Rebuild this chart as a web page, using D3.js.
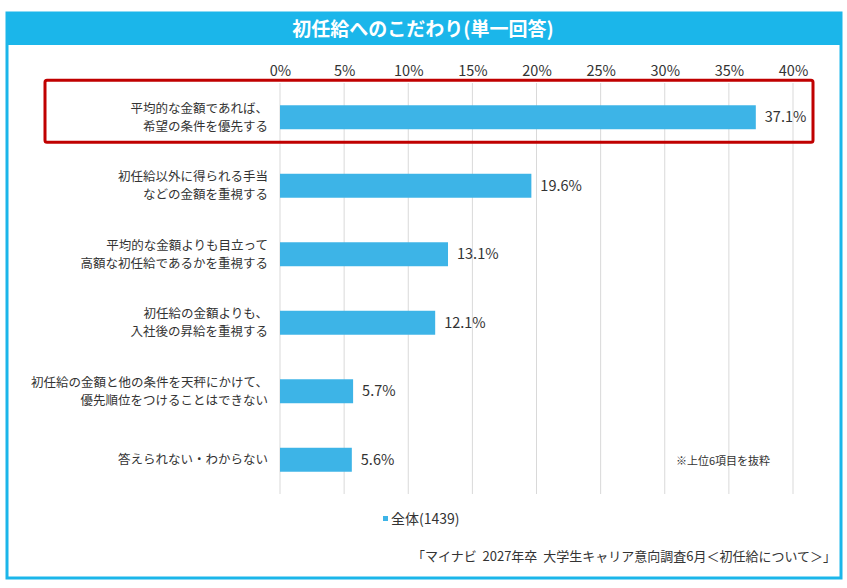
<!DOCTYPE html>
<html>
<head>
<meta charset="utf-8">
<script src="https://cdn.jsdelivr.net/npm/d3@7"></script>
<style>
  body { margin: 0; background: #fff; }
  svg text { font-family: "Noto Sans CJK JP", "Noto Sans", sans-serif; }
</style>
</head>
<body>
<div id="chart"></div>
<script>
var categories = [
  ["平均的な金額であれば、", "希望の条件を優先する"],
  ["初任給以外に得られる手当", "などの金額を重視する"],
  ["平均的な金額よりも目立って", "高額な初任給であるかを重視する"],
  ["初任給の金額よりも、", "入社後の昇給を重視する"],
  ["初任給の金額と他の条件を天秤にかけて、", "優先順位をつけることはできない"],
  ["答えられない・わからない"]
];
var values = [37.1, 19.6, 13.1, 12.1, 5.7, 5.6];
var tickValues = [0, 5, 10, 15, 20, 25, 30, 35, 40];
var seriesName = "全体(1439)";
var titleText = "初任給へのこだわり(単一回答)";
var noteText = "※上位6項目を抜粋";
var sourceText = "「マイナビ  2027年卒  大学生キャリア意向調査6月＜初任給について＞」";

var width = 847, height = 588;
var blue = "#1bb6ea", barColor = "#3db4e7";

var svg = d3.select("#chart")
    .append("svg")
    .attr("width", width)
    .attr("height", height);

// frame + title bar
svg.append("rect")
    .attr("x", 7).attr("y", 13)
    .attr("width", 834).attr("height", 565)
    .attr("fill", "#fff")
    .attr("stroke", blue)
    .attr("stroke-width", 3);

svg.append("rect")
    .attr("x", 7).attr("y", 13)
    .attr("width", 834).attr("height", 32)
    .attr("fill", blue);

svg.append("text")
    .attr("x", 423).attr("y", 29)
    .attr("dy", "0.35em")
    .attr("text-anchor", "middle")
    .attr("fill", "#fff")
    .attr("font-size", 19)
    .attr("font-weight", "bold")
    .text(titleText);

var x = d3.scaleLinear()
    .domain([0, 40])
    .range([280, 793]);

var y = d3.scaleBand()
    .domain(d3.range(values.length))
    .range([83, 494])
    .paddingInner(0.65)
    .paddingOuter(0.325);

// grid
svg.append("g")
    .selectAll("line")
    .data(tickValues)
    .enter().append("line")
    .attr("x1", function(d) { return x(d); })
    .attr("x2", function(d) { return x(d); })
    .attr("y1", 83)
    .attr("y2", 494)
    .attr("stroke", "#d9d9d9")
    .attr("stroke-width", 1);

// top axis labels
var axis = svg.append("g")
    .attr("transform", "translate(0,83)")
    .call(d3.axisTop(x).tickValues(tickValues).tickSize(0).tickPadding(7)
        .tickFormat(function(d) { return d + "%"; }));
axis.select(".domain").remove();
axis.selectAll("text")
    .attr("font-size", 14.5)
    .attr("fill", "#333")
    .style("font-family", "\"Noto Sans CJK JP\", sans-serif");

// bars
svg.selectAll(".bar")
    .data(values)
    .enter().append("rect")
    .attr("class", "bar")
    .attr("x", x(0))
    .attr("y", function(d, i) { return y(i); })
    .attr("width", function(d) { return x(d) - x(0); })
    .attr("height", y.bandwidth())
    .attr("fill", barColor);

// value labels
svg.selectAll(".barvalues")
    .data(values)
    .enter().append("text")
    .attr("class", "barvalues")
    .attr("x", function(d) { return x(d) + 9; })
    .attr("y", function(d, i) { return y(i) + y.bandwidth() / 2; })
    .attr("dy", "0.35em")
    .attr("font-size", 14.5)
    .attr("fill", "#333")
    .text(function(d) { return d.toFixed(1) + "%"; });

// category labels
var cat = svg.selectAll(".catlabel")
    .data(categories)
    .enter().append("text")
    .attr("class", "catlabel")
    .attr("text-anchor", "end")
    .attr("font-size", 12.5)
    .attr("fill", "#333");
cat.each(function(lines, i) {
    var cy = y(i) + y.bandwidth() / 2;
    var t = d3.select(this);
    lines.forEach(function(s, j) {
        t.append("tspan")
            .attr("x", 268)
            .attr("y", cy + (j - (lines.length - 1) / 2) * 18)
            .attr("dy", "0.35em")
            .text(s);
    });
});

// highlight box around first item
svg.append("rect")
    .attr("x", 45).attr("y", y(0) - 25)
    .attr("width", 768).attr("height", 62)
    .attr("fill", "none")
    .attr("stroke", "#c00000")
    .attr("stroke-width", 3)
    .attr("rx", 2);

// note
svg.append("text")
    .attr("x", 676).attr("y", 461)
    .attr("dy", "0.35em")
    .attr("font-size", 11)
    .attr("fill", "#333")
    .text(noteText);

// legend
svg.append("rect")
    .attr("x", 383).attr("y", 516)
    .attr("width", 5).attr("height", 5)
    .attr("fill", barColor);
svg.append("text")
    .attr("x", 391).attr("y", 519)
    .attr("dy", "0.35em")
    .attr("font-size", 14)
    .attr("fill", "#333")
    .text(seriesName);

// source
svg.append("text")
    .attr("x", 836).attr("y", 556)
    .attr("dy", "0.35em")
    .attr("text-anchor", "end")
    .attr("font-size", 13)
    .attr("fill", "#333")
    .attr("xml:space", "preserve")
    .style("white-space", "pre")
    .text(sourceText);
</script>
</body>
</html>
